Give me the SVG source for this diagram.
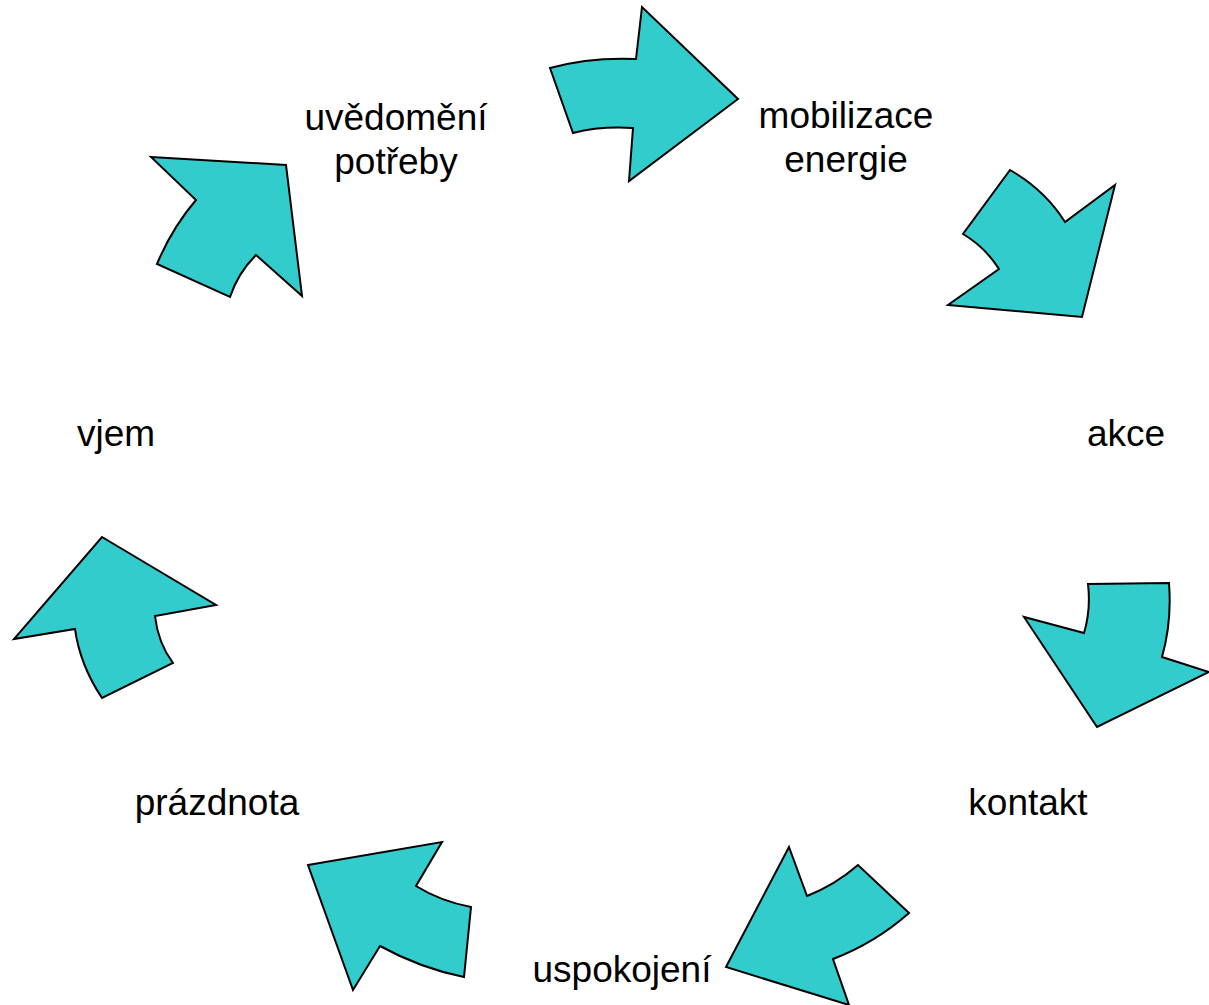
<svg xmlns="http://www.w3.org/2000/svg" width="1209" height="1005" viewBox="0 0 1209 1005">
<style>
.arrow{fill:#33CCCC;stroke:#000;stroke-width:2;stroke-linejoin:miter}
.lbl{font-family:"Liberation Sans",Arial,sans-serif;font-size:37px;fill:#000;text-anchor:middle}
</style>
<rect width="1209" height="1005" fill="#fff"/>
<g id="connectors">
<path id="arrow-1" class="arrow" d="M550,68 Q590,57 636,59 L642,7 L738,99 L629,181 L633,128 Q600,126 573,133 Z"/>
<path id="arrow-2" class="arrow" d="M1010,170 Q1045,190 1065,222 L1115,185 L1082,317 L948,305 L999,269 Q985,247 963,234 Z"/>
<path id="arrow-3" class="arrow" d="M1088,584 L1169,583 Q1172,622 1162,657 L1209,672 L1097,727 L1024,617 L1084,633 Q1091,610 1088,584 Z"/>
<path id="arrow-4" class="arrow" d="M789,847 L807,896 Q835,885 858,865 L909,913 Q875,943 833,959 L849,1005 L726,967 Z"/>
<path id="arrow-5" class="arrow" d="M308,865 L442,842 L416,886 Q440,901 471,907 L464,977 Q420,968 380,946 L353,990 Z"/>
<path id="arrow-6" class="arrow" d="M102,537 L216,605 L155,616 Q158,643 173,663 L102,698 Q80,665 75,629 L14,639 Z"/>
<path id="arrow-7" class="arrow" d="M151,157 L286,165 L302,296 L256,255 Q238,273 230,297 L157,264 Q172,228 196,200 Z"/>
</g>
<g id="node-uvedomeni"><text class="lbl" x="396" y="130">uvědomění</text><text class="lbl" x="396" y="174">potřeby</text></g>
<g id="node-mobilizace"><text class="lbl" x="846" y="128">mobilizace</text><text class="lbl" x="846" y="172">energie</text></g>
<g id="node-akce"><text class="lbl" x="1126" y="446">akce</text></g>
<g id="node-kontakt"><text class="lbl" x="1028" y="815">kontakt</text></g>
<g id="node-uspokojeni"><text class="lbl" x="622" y="982">uspokojení</text></g>
<g id="node-prazdnota"><text class="lbl" x="217" y="815">prázdnota</text></g>
<g id="node-vjem"><text class="lbl" x="116" y="446">vjem</text></g>
</svg>
